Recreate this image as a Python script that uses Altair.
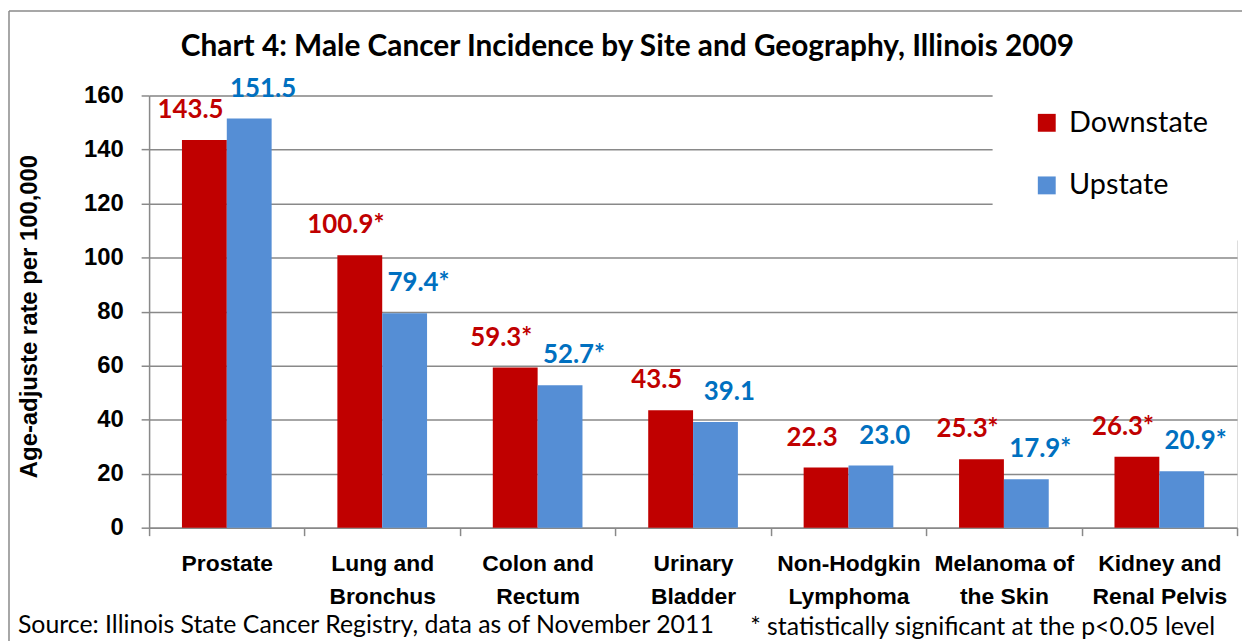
import json
import altair as alt
import pandas as pd

# ---- data ----
sites = ["Prostate", "Lung and Bronchus", "Colon and Rectum", "Urinary Bladder",
         "Non-Hodgkin Lymphoma", "Melanoma of the Skin", "Kidney and Renal Pelvis"]
tick_labels = [["Prostate"], ["Lung and", "Bronchus"], ["Colon and", "Rectum"],
               ["Urinary", "Bladder"], ["Non-Hodgkin", "Lymphoma"],
               ["Melanoma of", "the Skin"], ["Kidney and", "Renal Pelvis"]]
regions = ["Downstate", "Upstate"]
downstate = [143.5, 100.9, 59.3, 43.5, 22.3, 25.3, 26.3]
upstate = [151.5, 79.4, 52.7, 39.1, 23.0, 17.9, 20.9]
downstate_sig = [False, True, True, False, False, True, True]
upstate_sig = [False, True, True, False, False, True, True]
y_ticks = [0, 20, 40, 60, 80, 100, 120, 140, 160]

title_text = "Chart 4: Male Cancer Incidence by Site and Geography, Illinois 2009"
y_title = "Age-adjuste rate per 100,000"
source_text = "Source: Illinois State Cancer Registry, data as of November 2011"
note_text = "* statistically significant at the p<0.05 level"

bar_colors = ["#C00000", "#558ED5"]
label_colors = ["#C00000", "#0070C0"]
grey = "#898989"
FONT = "Lato"

rows = []
for i, s in enumerate(sites):
    for reg, vals, sig in ((regions[0], downstate, downstate_sig), (regions[1], upstate, upstate_sig)):
        rows.append({"site": s, "region": reg, "value": vals[i],
                     "label": f"{vals[i]:.1f}" + ("*" if sig[i] else "")})
df = pd.DataFrame(rows)

label_expr = " : ".join(
    f"datum.value == {json.dumps(s)} ? {json.dumps(l)}" for s, l in zip(sites, tick_labels)
) + " : datum.value"

W, H = 1095, 435

x_enc = alt.X("site:N", sort=sites, title=None,
              scale=alt.Scale(paddingInner=0, paddingOuter=0),
              axis=alt.Axis(labelExpr=label_expr, labelAngle=0, tickBand="extent",
                            tickSize=8, tickColor=grey, tickWidth=1.5,
                            domainColor=grey, domainWidth=1.5,
                            labelFontSize=23, labelFontWeight="bold", labelColor="black",
                            labelLineHeight=33, labelPadding=17, grid=False))
xo_enc = alt.XOffset("region:N", sort=regions,
                     scale=alt.Scale(paddingInner=0, paddingOuter=0.733))
y_enc = alt.Y("value:Q", scale=alt.Scale(domain=[0, 160]),
              axis=alt.Axis(values=y_ticks, title=y_title, grid=True,
                            gridColor=grey, gridWidth=1.5,
                            tickSize=8, tickColor=grey, tickWidth=1.5,
                            domainColor=grey, domainWidth=1.5,
                            labelFontSize=24, labelFontWeight="bold", labelColor="black",
                            labelPadding=18,
                            titleFontSize=24, titleFontWeight="bold", titleColor="black",
                            titleX=-120, titleY=222, titleAngle=-90,
                            titleAlign="center", titleBaseline="middle"))

base = alt.Chart(df)

bars = base.mark_bar().encode(
    x=x_enc, xOffset=xo_enc, y=y_enc,
    color=alt.Color("region:N", sort=regions,
                    scale=alt.Scale(domain=regions, range=bar_colors),
                    legend=alt.Legend(orient="none", legendX=849, legendY=-27, title=None,
                                      symbolType="square", symbolSize=324,
                                      symbolStrokeWidth=0, labelFontSize=29,
                                      labelFont=FONT, labelColor="black",
                                      labelOffset=8, rowPadding=33, padding=40,
                                      fillColor="white")),
)


def value_labels(region, colour, shift):
    return base.transform_filter(alt.datum.region == region).mark_text(
        dy=-30, dx=shift, fontSize=26, fontWeight="bold", font=FONT,
        baseline="middle", color=colour).encode(
        x=alt.X("site:N", sort=sites),
        xOffset=alt.XOffset("region:N", sort=regions),
        y="value:Q",
        text="label:N",
    )


labels_down = value_labels(regions[0], label_colors[0], -14)
labels_up = value_labels(regions[1], label_colors[1], 14)

# outer chart border (top and left edges; the others fall outside the picture)
one = pd.DataFrame({"k": [0]})
frame_top = alt.Chart(one).mark_rule(color="#8a8a8a", strokeWidth=1.5).encode(
    x=alt.value(-141), x2=alt.value(1102), y=alt.value(-85))
frame_left = alt.Chart(one).mark_rule(color="#8a8a8a", strokeWidth=1.5).encode(
    x=alt.value(-141), y=alt.value(-85), y2=alt.value(550))

source = alt.Chart(pd.DataFrame({"t": [source_text]})).mark_text(
    align="left", baseline="middle", fontSize=25, font=FONT, color="black").encode(
    text="t:N", x=alt.value(-132), y=alt.value(533))

note = alt.Chart(pd.DataFrame({"t": [note_text]})).mark_text(
    align="left", baseline="middle", fontSize=25, font=FONT, color="black").encode(
    text="t:N", x=alt.value(605), y=alt.value(535))

chart = alt.layer(frame_top, frame_left, bars, labels_down, labels_up, source, note).properties(
    width=W, height=H,
    title=alt.TitleParams(title_text, font=FONT, fontSize=30, fontWeight="bold",
                          color="black", anchor="middle", frame="group", dx=-66,
                          offset=0, baseline="middle", dy=67),
    autosize=alt.AutoSizeParams(type="none"),
    padding={"left": 142, "top": 86, "right": 5, "bottom": 112},
).configure_axis(labelFont=FONT, titleFont=FONT).configure_view(stroke=None).configure(
    background="white")

chart.save("out.html", embed_options={"renderer": "svg", "actions": False})
